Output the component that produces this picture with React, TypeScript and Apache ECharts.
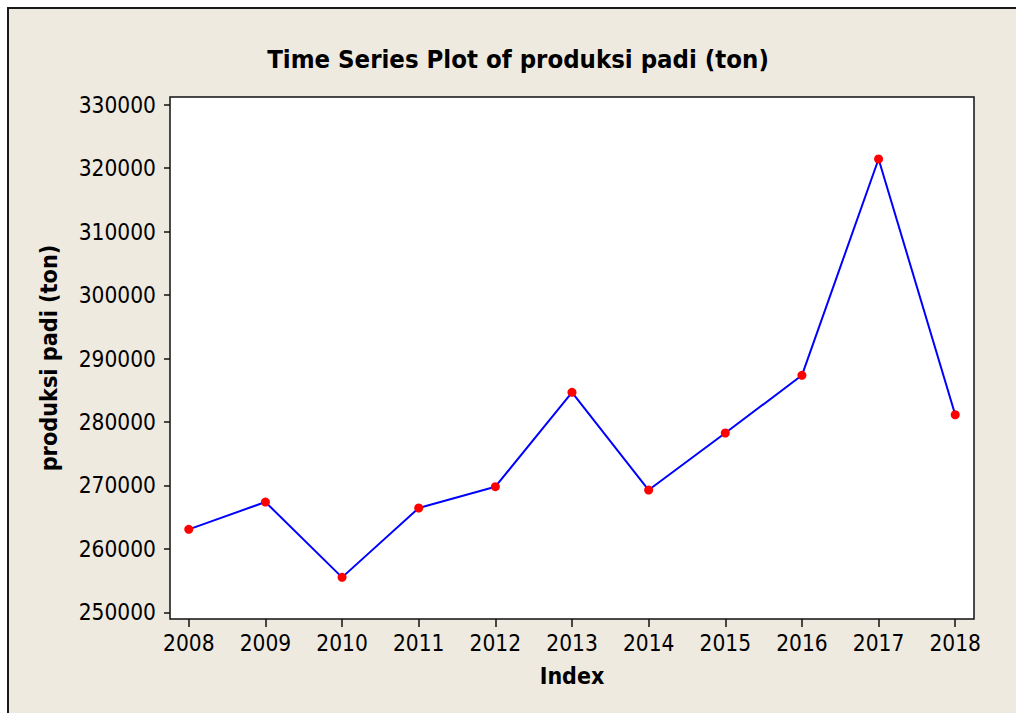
import React, { useEffect, useRef } from "react";
import * as echarts from "echarts";

const years = [2008, 2009, 2010, 2011, 2012, 2013, 2014, 2015, 2016, 2017, 2018];
const production = [263080, 267380, 255510, 266440, 269800, 284670, 269270, 278260, 287350, 321440, 281140];
const yTicks = [250000, 260000, 270000, 280000, 290000, 300000, 310000, 320000, 330000];

const FONT = "'DejaVu Sans Condensed', 'DejaVu Sans', sans-serif";

export default function App() {
  const ref = useRef<HTMLDivElement>(null);
  useEffect(() => {
    if (!ref.current) return;
    const chart = echarts.init(ref.current, null, { renderer: "svg" });
    chart.setOption({
      animation: false,
      backgroundColor: "#ffffff",
      graphic: [
        {
          type: "rect",
          z: -10,
          silent: true,
          shape: { x: 8, y: 8, width: 1100, height: 800 },
          style: { fill: "#EEEAE0", stroke: "#1a1a1a", lineWidth: 2 },
        },
      ],
      title: {
        text: "Time Series Plot of produksi padi (ton)",
        left: 513,
        textAlign: "center",
        top: 41,
        textStyle: { fontFamily: FONT, fontWeight: "bold", fontSize: 25.5, color: "#000" },
      },
      grid: {
        left: 170,
        top: 97,
        right: 42,
        bottom: 94,
        show: true,
        backgroundColor: "#ffffff",
        borderColor: "#111",
        borderWidth: 1.5,
      },
      xAxis: {
        type: "value",
        min: 2007.755,
        max: 2018.245,
        name: "Index",
        nameLocation: "middle",
        nameGap: 45,
        nameTextStyle: { fontFamily: FONT, fontWeight: "bold", fontSize: 23, color: "#000" },
        axisLine: { show: false },
        splitLine: { show: false },
        axisTick: { show: true, customValues: years, length: 8, lineStyle: { color: "#111", width: 1.5 } },
        axisLabel: {
          customValues: years,
          margin: 12,
          fontFamily: FONT,
          fontSize: 22.5,
          color: "#000",
          formatter: (v: number) => String(Math.round(v)),
        },
      },
      yAxis: {
        type: "value",
        min: 248950,
        max: 331210,
        name: "produksi padi (ton)",
        nameLocation: "middle",
        nameGap: 110,
        nameTextStyle: { fontFamily: FONT, fontWeight: "bold", fontSize: 23.2, color: "#000" },
        axisLine: { show: false },
        splitLine: { show: false },
        axisTick: { show: true, customValues: yTicks, length: 6, lineStyle: { color: "#111", width: 1.5 } },
        axisLabel: {
          customValues: yTicks,
          margin: 14,
          fontFamily: FONT,
          fontSize: 22.5,
          color: "#000",
          formatter: (v: number) => String(Math.round(v)),
        },
      },
      series: [
        {
          type: "line",
          data: years.map((y, i) => [y, production[i]]),
          lineStyle: { color: "#0000ff", width: 2 },
          itemStyle: { color: "#ff0000" },
          symbol: "circle",
          symbolSize: 9,
          showSymbol: true,
        },
      ],
    });
    return () => chart.dispose();
  }, []);
  return <div ref={ref} style={{ position: "absolute", left: 0, top: 0, width: 1016, height: 713 }} />;
}
